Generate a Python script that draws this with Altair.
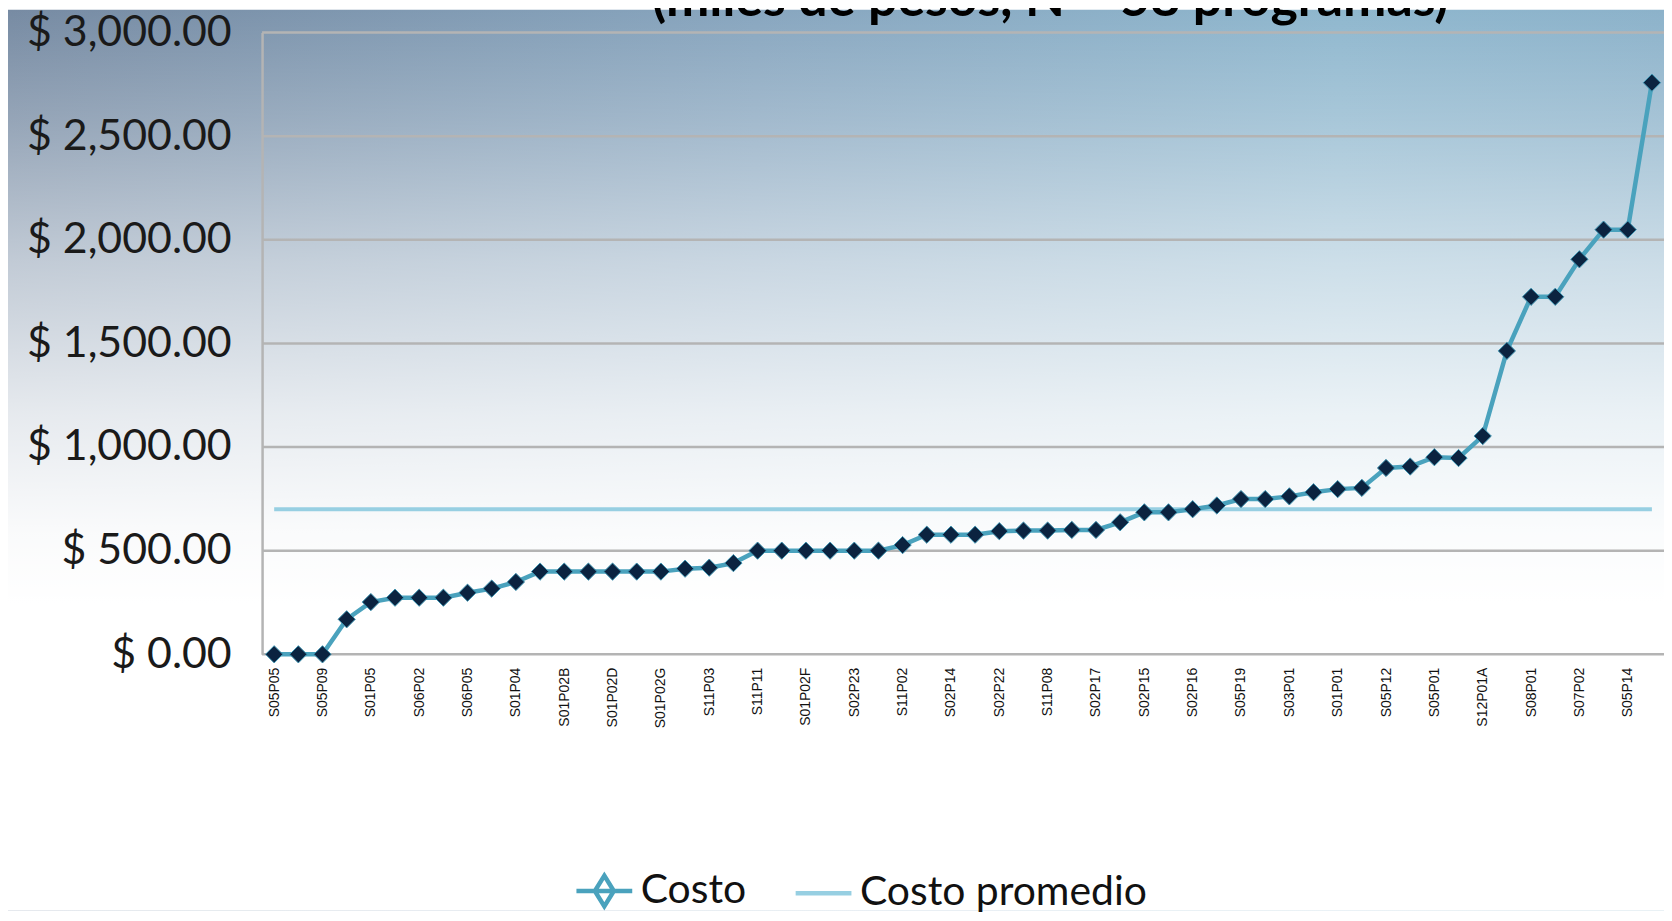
import json
import altair as alt
import pandas as pd

# ---------------- data ----------------
etiquetas_pares = ["S05P05", "S05P09", "S01P05", "S06P02", "S06P05", "S01P04", "S01P02B",
                   "S01P02D", "S01P02G", "S11P03", "S11P11", "S01P02F", "S02P23", "S11P02",
                   "S02P14", "S02P22", "S11P08", "S02P17", "S02P15", "S02P16", "S05P19",
                   "S03P01", "S01P01", "S05P12", "S05P01", "S12P01A", "S08P01", "S07P02",
                   "S05P14"]
costo = [0, 0, 0, 169, 252, 273, 273, 273, 297, 317, 349, 399, 399, 399, 399, 399, 399,
         413, 418, 440, 500, 500, 500, 500, 500, 500, 527, 577, 577, 577, 594, 597, 597,
         600, 600, 637, 685, 685, 700, 718, 749, 749, 762, 782, 797, 803, 899, 906, 951,
         947, 1053, 1464, 1725, 1725, 1906, 2049, 2049, 2758]
costo_promedio = 700
series = ["Costo", "Costo promedio"]
colores = ["#4aa2bd", "#97cfe2"]
ticks_y = [0, 500, 1000, 1500, 2000, 2500, 3000]
titulo = ["(miles de pesos, N = 58 programas)"]

n = len(costo)
idx = list(range(n))
df = pd.DataFrame({
    "idx": idx + idx,
    "Serie": [series[0]] * n + [series[1]] * n,
    "Valor": costo + [costo_promedio] * n,
})
df_costo = df[df["Serie"] == series[0]]
df_prom = df[df["Serie"] == series[1]]

W, H = 1407, 624
PAD_L, PAD_T, PAD_R, PAD_B = 255, 23, 0, 257

label_expr = "datum.value % 2 === 0 ? " + json.dumps(etiquetas_pares) + "[datum.value / 2] : ''"

x_scale = alt.Scale(type="point", padding=0.5)
x_enc = alt.X("idx:O", scale=x_scale,
              axis=alt.Axis(title=None, labelExpr=label_expr, labelAngle=270,
                            labelFont="Liberation Sans", labelFontSize=14, labelColor="#111111",
                            labelPadding=13, ticks=False, domain=False, grid=False,
                            labelOverlap=False, zindex=1))
y_scale = alt.Scale(domain=[0, 3000], nice=False, zero=True)
y_enc = alt.Y("Valor:Q", scale=y_scale,
              axis=alt.Axis(title=None, values=ticks_y,
                            labelExpr="'$ ' + format(datum.value, ',.2f')",
                            labelFont="Lato", labelFontSize=43, labelColor="#1a1a1a",
                            labelLimit=400, labelPadding=31, ticks=False, grid=False,
                            domain=True, domainColor="#b4b4b4", domainWidth=2.5, zindex=1))

one = pd.DataFrame({"k": [0]})
full_box = dict(x=alt.value(-PAD_L), x2=alt.value(W + PAD_R + 5),
                y=alt.value(-PAD_T), y2=alt.value(H + PAD_B))

# base tint: grey-blue on the left, steel blue on the right
bg = alt.Chart(one).mark_rect(
    fill=alt.LinearGradient(gradient="linear", x1=0, y1=0, x2=1, y2=0, stops=[
        alt.GradientStop(offset=0, color="#778ba3"),
        alt.GradientStop(offset=0.45, color="#88a6bf"),
        alt.GradientStop(offset=0.8, color="#8fb7ce"),
        alt.GradientStop(offset=1, color="#8cb2ca"),
    ])
).encode(**full_box)

# fade to white towards the bottom
fade = alt.Chart(one).mark_rect(
    fill=alt.LinearGradient(gradient="linear", x1=0, y1=0, x2=0, y2=1, stops=[
        alt.GradientStop(offset=0, color="rgba(255,255,255,0)"),
        alt.GradientStop(offset=0.12, color="rgba(255,255,255,0.22)"),
        alt.GradientStop(offset=0.28, color="rgba(255,255,255,0.55)"),
        alt.GradientStop(offset=0.45, color="rgba(255,255,255,0.82)"),
        alt.GradientStop(offset=0.58, color="rgba(255,255,255,0.96)"),
        alt.GradientStop(offset=0.66, color="rgba(255,255,255,1)"),
        alt.GradientStop(offset=1, color="rgba(255,255,255,1)"),
    ])
).encode(**full_box)

title_layer = alt.Chart(pd.DataFrame({"t": titulo})).mark_text(
    font="Lato", fontSize=52, fontWeight="bold", color="#000000",
    align="center", baseline="alphabetic"
).encode(text="t:N", x=alt.value(791), y=alt.value(-17))

grid = alt.Chart(pd.DataFrame({"Valor": ticks_y})).mark_rule(
    color="#b4b4b4", strokeWidth=2.5
).encode(y=y_enc)

line_prom = alt.Chart(df_prom).mark_line(strokeWidth=4, color=colores[1]).encode(
    x=x_enc, y=y_enc, order=alt.Order("idx:Q"))

line_costo = alt.Chart(df_costo).mark_line(strokeWidth=4.5, color=colores[0]).encode(
    x=x_enc, y=y_enc, order=alt.Order("idx:Q"))

points = alt.Chart(df_costo).mark_point(
    shape="diamond", filled=True, size=300, fill="#0b2340", stroke="#3d94b1",
    strokeWidth=1, opacity=1
).encode(x=x_enc, y=y_enc)

# legend (drawn by the library from the scale domains)
path_costo = "M-1,0L1,0M0,-0.55L0.34,0L0,0.55L-0.34,0Z"
path_prom = "M-1,0L1,0"
leg = alt.Legend(orient="none", legendX=313, legendY=831, direction="horizontal",
                 title=None, labelFont="Lato", labelFontSize=41, labelColor="#111111",
                 labelLimit=500, symbolSize=3136, symbolStrokeWidth=4.5, labelOffset=6,
                 columnPadding=40, symbolOpacity=1, symbolFillColor="#0b2340")
legend_layer = alt.Chart(df).transform_filter("false").mark_point(
    filled=False, strokeWidth=4.5, opacity=1
).encode(
    color=alt.Color("Serie:N", scale=alt.Scale(domain=series, range=colores), legend=leg),
    shape=alt.Shape("Serie:N", scale=alt.Scale(domain=series, range=[path_costo, path_prom]),
                    legend=leg),
)

chart = alt.layer(bg, fade, title_layer, grid, line_prom, line_costo, points,
                  legend_layer).properties(
    width=W, height=H,
    autosize=alt.AutoSizeParams(type="none"),
    padding={"left": PAD_L, "top": PAD_T, "right": PAD_R, "bottom": PAD_B},
    background="white",
).configure_view(stroke=None)

chart.save("out.html", embed_options={"renderer": "svg", "actions": False})
